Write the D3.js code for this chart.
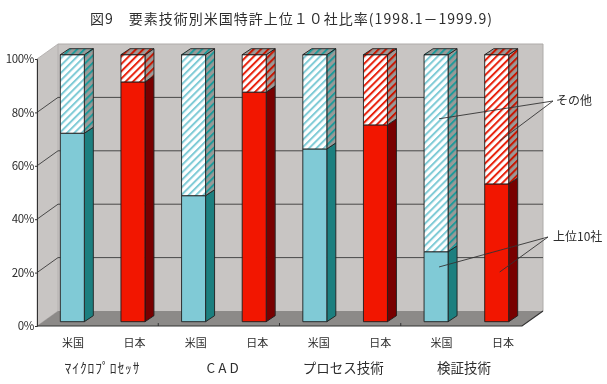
<!DOCTYPE html>
<html lang="ja">
<head>
<meta charset="utf-8">
<script src="https://cdn.jsdelivr.net/npm/d3@7"></script>
<style>
  html, body { margin: 0; background: #fff; }
  svg { display: block; }
  text { font-family: "Noto Sans CJK JP", "DejaVu Sans", sans-serif; fill: #2e2e2e; }
</style>
</head>
<body>
<svg id="chart" width="607" height="384"></svg>
<script>
const groups = ['ﾏｲｸﾛﾌﾟﾛｾｯｻ', 'C A D', 'プロセス技術', '検証技術'];
const countries = ['米国', '日本', '米国', '日本', '米国', '日本', '米国', '日本'];
const top10 = [70.6, 89.8, 47.2, 86, 64.7, 73.7, 26.2, 51.6];
const other = top10.map(d => 100 - d);
const yTicks = [0, 20, 40, 60, 80, 100];
const title = '図9　要素技術別米国特許上位１０社比率(1998.1－1999.9)';
// leader lines: label, then [bar index, value] each one points at
const otherLabel = 'その他';
const otherTargets = [[6, 76], [7, 67.7]];
const top10Label = '上位10社';
const top10Targets = [[6, 20.5], [7, 18.6]];

const svg = d3.select('#chart');
const defs = svg.append('defs');
defs.append('filter').attr('id', 'soft')
  .attr('x', 0).attr('y', 0).attr('width', 1).attr('height', 1)
  .append('feGaussianBlur').attr('stdDeviation', 0.4);

function stripes(id, bg, fg) {
  const p = defs.append('pattern').attr('id', id)
    .attr('patternUnits', 'userSpaceOnUse')
    .attr('width', 5.2).attr('height', 5.2)
    .attr('patternTransform', 'rotate(45)');
  p.append('rect').attr('width', 5.2).attr('height', 5.2).attr('fill', bg);
  p.append('rect').attr('width', 2).attr('height', 5.2).attr('fill', fg);
}
stripes('usFront', '#fff', '#7fcbd6');
stripes('jpFront', '#fff', '#e8200c');
stripes('usSide', '#9a9a98', '#1f9a9a');
stripes('jpSide', '#9a9a98', '#c81400');

const colors = [
  { solid: '#80cad6', side: '#1f7f7f', hatch: 'url(#usFront)', hatchSide: 'url(#usSide)' },
  { solid: '#f21500', side: '#780000', hatch: 'url(#jpFront)', hatchSide: 'url(#jpSide)' }
];

const root = svg.append('g').attr('filter', 'url(#soft)');
root.append('rect').attr('width', 607).attr('height', 384).attr('fill', '#fff');

// frame: front plane plus the offset of the back wall
const x = d3.scaleBand().domain(d3.range(countries.length)).range([37, 522]);
const y = d3.scaleLinear().domain([0, 100]).range([326, 59]);
const wall = { dx: 21, dy: -15 };
const bar = { shift: 5, lift: -4.3, width: 24, dx: 9, dy: -6 };
const barX = i => x(i) + x.bandwidth() / 2 + bar.shift - bar.width / 2;
const barY = v => y(v) + bar.lift;
const poly = pts => 'M' + pts.map(p => p.join(',')).join('L') + 'Z';

const x0 = x.range()[0], x1 = x.range()[1], y0 = y(0), y100 = y(100);
// back wall
root.append('path').attr('fill', '#c8c5c3').attr('d', poly([
  [x0 + wall.dx, y100 + wall.dy], [x1 + wall.dx, y100 + wall.dy],
  [x1 + wall.dx, y0 + wall.dy], [x0 + wall.dx, y0 + wall.dy]]));
// left wall
root.append('path').attr('fill', '#c8c5c3').attr('stroke', '#aeaba9').attr('stroke-width', 0.8).attr('d', poly([
  [x0, y100], [x0 + wall.dx, y100 + wall.dy], [x0 + wall.dx, y0 + wall.dy], [x0, y0]]));
// floor
root.append('path').attr('fill', '#8c8a88').attr('d', poly([
  [x0, y0], [x0 + wall.dx, y0 + wall.dy], [x1 + wall.dx, y0 + wall.dy], [x1, y0]]));
root.append('path').attr('fill', 'none').attr('stroke', '#aeaba9').attr('stroke-width', 1)
  .attr('d', `M${x0 + wall.dx},${y100 + wall.dy}H${x1 + wall.dx}V${y0 + wall.dy}`);

// gridlines run over the left wall and along the back wall
root.append('g').selectAll('path')
  .data(yTicks.filter(t => t > 0 && t < 100))
  .join('path')
  .attr('fill', 'none').attr('stroke', '#3a3a3a').attr('stroke-width', 0.9)
  .attr('d', t => `M${x0},${y(t)}L${x0 + wall.dx},${y(t) + wall.dy}H${x1 + wall.dx}`);

// axes
const yAxis = d3.axisLeft(y).tickValues(yTicks).tickSize(2).tickPadding(1).tickFormat(d => d + '%');
const yG = root.append('g').attr('transform', `translate(${x0},0)`).call(yAxis);
yG.select('.domain').attr('stroke', '#333');
yG.selectAll('.tick line').attr('stroke', '#333');
yG.selectAll('text').attr('font-size', 11.5).style('letter-spacing', '-0.4px');

root.append('path').attr('fill', 'none').attr('stroke', '#333').attr('stroke-width', 1.2)
  .attr('d', `M${x0},${y0}H${x1}L${x1 + wall.dx},${y0 + wall.dy}`);
root.append('g').selectAll('line')
  .data(d3.range(2, countries.length, 2))
  .join('line')
  .attr('x1', i => x(i)).attr('x2', i => x(i))
  .attr('y1', y0).attr('y2', y0 - 3)
  .attr('stroke', '#333');

// stacked 3D bars
const rows = countries.map((c, i) => ({ i, top10: top10[i], other: other[i] }));
const stacked = d3.stack().keys(['top10', 'other'])(rows);
const edge = { stroke: '#1e1e1e', 'stroke-width': 0.9, 'stroke-linejoin': 'round' };
const applyEdge = s => { Object.entries(edge).forEach(([k, v]) => s.attr(k, v)); return s; };

rows.forEach((row, idx) => {
  const g = root.append('g');
  const c = colors[row.i % 2];
  const l = barX(row.i), r = l + bar.width;
  stacked.forEach((layer, li) => {
    const [v0, v1] = layer[idx];
    const yb = barY(v0), yt = barY(v1);
    const isOther = li === 1;
    applyEdge(g.append('path')).attr('fill', isOther ? c.hatchSide : c.side).attr('d', poly([
      [r, yb], [r + bar.dx, yb + bar.dy], [r + bar.dx, yt + bar.dy], [r, yt]]));
    applyEdge(g.append('rect')).attr('fill', isOther ? c.hatch : c.solid)
      .attr('x', l).attr('y', yt).attr('width', bar.width).attr('height', yb - yt);
    if (isOther) {
      applyEdge(g.append('path')).attr('fill', c.hatchSide).attr('d', poly([
        [l, yt], [l + bar.dx, yt + bar.dy], [r + bar.dx, yt + bar.dy], [r, yt]]));
    }
  });
});

// category labels sit on their own loose grid below the axis
const labelX = d3.scalePoint().domain(d3.range(countries.length)).range([73, 503]);
root.append('g').selectAll('text')
  .data(countries)
  .join('text')
  .attr('x', (d, i) => labelX(i)).attr('y', 347)
  .attr('text-anchor', 'middle').attr('font-size', 11)
  .text(d => d);

const groupX = d3.scalePoint().domain(d3.range(groups.length)).range([102, 464]);
root.append('g').selectAll('text')
  .data(groups)
  .join('text')
  .attr('x', (d, i) => groupX(i)).attr('y', 373)
  .attr('text-anchor', 'middle').attr('font-size', 13.5)
  .attr('textLength', (d, i) => i === 0 ? 75 : null)
  .text(d => d);

root.append('text').attr('x', 291).attr('y', 24)
  .attr('text-anchor', 'middle').attr('font-size', 14)
  .attr('textLength', 402)
  .text(title);

// leader lines
function callout(label, targets, tx, ty, ax) {
  root.append('text').attr('x', tx).attr('y', ty).attr('font-size', 12).text(label);
  root.append('g').selectAll('line')
    .data(targets)
    .join('line')
    .attr('x1', ax).attr('y1', ty - 4)
    .attr('x2', d => barX(d[0]) + bar.width / 2 + 3)
    .attr('y2', d => barY(d[1]))
    .attr('stroke', '#333').attr('stroke-width', 0.9);
}
callout(otherLabel, otherTargets, 556, 105, 553);
callout(top10Label, top10Targets, 553, 241, 548);
</script>
</body>
</html>
